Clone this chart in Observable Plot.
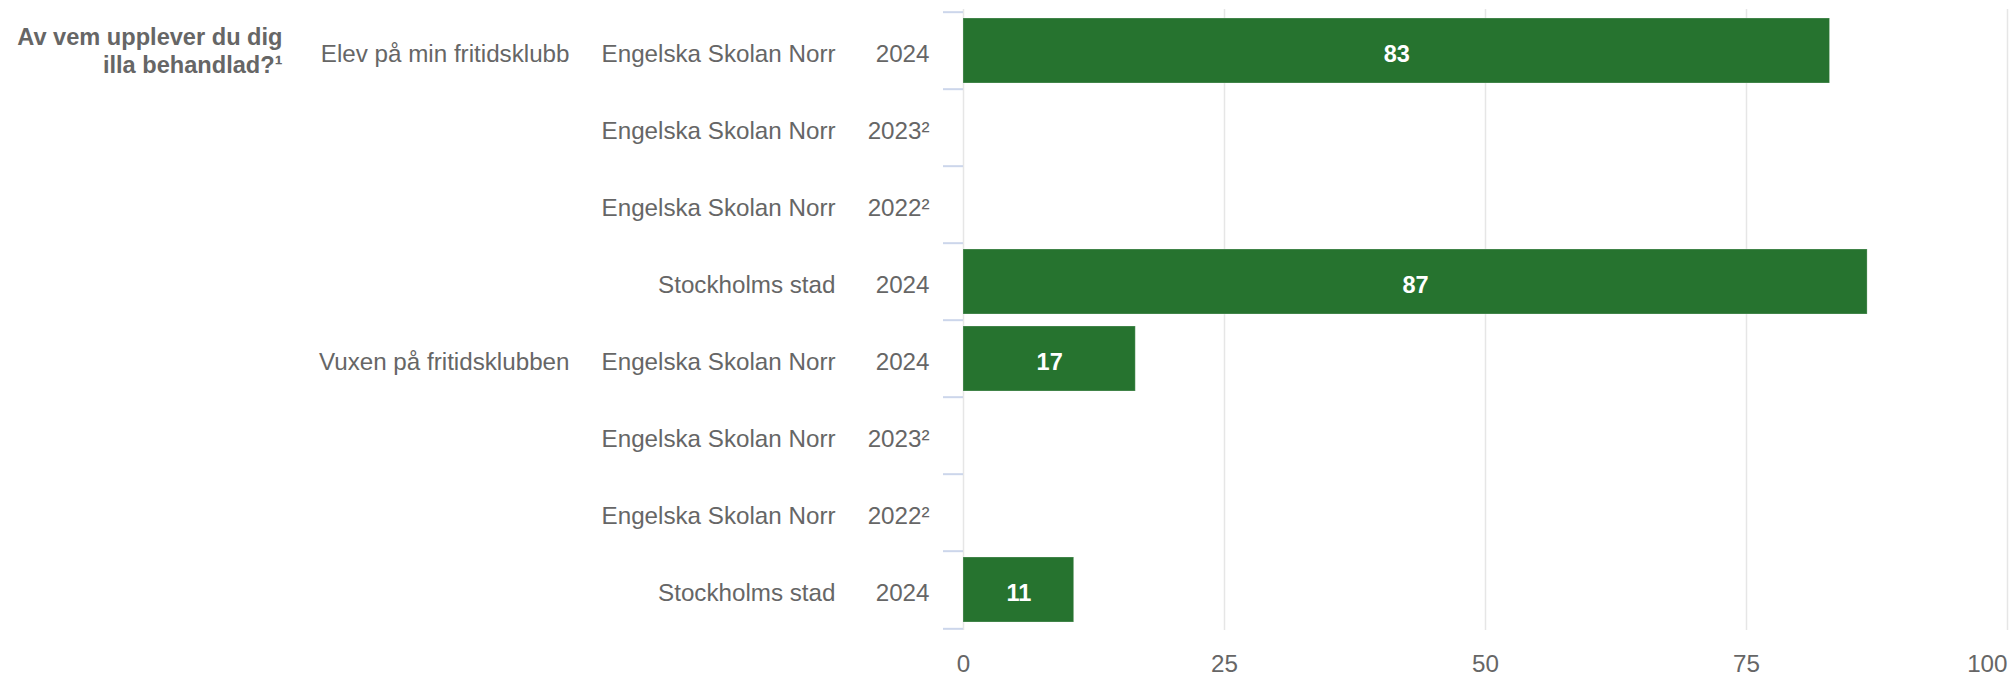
<!DOCTYPE html>
<html>
<head>
<meta charset="utf-8">
<script src="https://cdn.jsdelivr.net/npm/d3@7"></script>
<script src="https://cdn.jsdelivr.net/npm/@observablehq/plot@0.6"></script>
<style>
  html, body { margin: 0; padding: 0; background: #ffffff; }
  #chart svg { display: block; }
</style>
</head>
<body>
<div id="chart"></div>
<script>
// ---- Data ----
const question = "Av vem upplever du dig\nilla behandlad?¹";
const groups = ["Elev på min fritidsklubb", "Vuxen på fritidsklubben"];
const units = ["Engelska Skolan Norr", "Engelska Skolan Norr", "Engelska Skolan Norr", "Stockholms stad"];
const years = ["2024", "2023²", "2022²", "2024"];
const elevValues = [83, null, null, 86.6];
const elevLabels = ["83", null, null, "87"];
const vuxenValues = [16.5, null, null, 10.6];
const vuxenLabels = ["17", null, null, "11"];
const xTicks = [0, 25, 50, 75, 100];

// ---- Build table ----
const seriesValues = [elevValues, vuxenValues];
const seriesLabels = [elevLabels, vuxenLabels];
const rows = [];
groups.forEach((g, gi) => {
  units.forEach((u, ui) => {
    rows.push({
      key: rows.length,
      group: ui === 0 ? g : "",
      unit: u,
      year: years[ui],
      value: seriesValues[gi][ui],
      label: seriesLabels[gi][ui]
    });
  });
});
const keys = rows.map(d => d.key);

// ---- Layout ----
const W = 2015, H = 676;
const mTop = 9, mBottom = 46, mLeft = 963, mRight = 8;
const step = (H - mTop - mBottom) / keys.length;
const textColor = "#666666";
const font = "'Liberation Sans', Arial, Helvetica, sans-serif";
const fs = 24.2;

const chart = Plot.plot({
  width: W,
  height: H,
  marginTop: mTop,
  marginBottom: mBottom,
  marginLeft: mLeft,
  marginRight: mRight,
  style: { fontFamily: font, color: textColor, background: "#ffffff" },
  x: { domain: [0, 100], label: null },
  y: { domain: keys, paddingInner: 0.16, paddingOuter: 0.08, label: null },
  marks: [
    Plot.gridX({ ticks: xTicks, stroke: "#e6e6e6", strokeOpacity: 1, strokeWidth: 1.5 }),
    // band-boundary tick marks on the category axis
    Plot.axisY({ ticks: keys, tickSize: 20, tickFormat: () => "", label: null, dy: -step / 2, stroke: "#ccd6eb", strokeWidth: 2 }),
    Plot.axisY({ ticks: [keys[keys.length - 1]], tickSize: 20, tickFormat: () => "", label: null, dy: step / 2, stroke: "#ccd6eb", strokeWidth: 2 }),
    Plot.barX(rows.filter(d => d.value != null), {
      x: "value", y: "key", fill: "#26732f", stroke: "#ffffff", strokeOpacity: 0.25, strokeWidth: 1
    }),
    Plot.text(rows.filter(d => d.value != null), {
      x: d => d.value / 2, y: "key", text: "label",
      fill: "#ffffff", fontWeight: "bold", fontSize: 23.5, dy: 3
    }),
    // category labels
    Plot.text(rows, {
      y: "key", text: "year", frameAnchor: "left", textAnchor: "end",
      dx: -34, dy: 3, fill: textColor, fontSize: fs
    }),
    Plot.text(rows, {
      y: "key", text: "unit", frameAnchor: "left", textAnchor: "end",
      dx: -128, dy: 3, fill: textColor, fontSize: fs
    }),
    Plot.text(rows, {
      y: "key", text: "group", frameAnchor: "left", textAnchor: "end",
      dx: -394, dy: 3, fill: textColor, fontSize: fs
    }),
    Plot.text([question], {
      y: () => keys[0], text: d => d, frameAnchor: "left", textAnchor: "end",
      dx: -681, dy: -1, lineHeight: 1.2, fill: textColor, fontSize: 23.6, fontWeight: "bold"
    }),
    // value axis labels
    Plot.axisX({ ticks: xTicks.slice(0, -1), tickSize: 0, tickPadding: 24, label: null, fontSize: fs, color: textColor, tickFormat: d => String(d) }),
    Plot.axisX({ ticks: xTicks.slice(-1), tickSize: 0, tickPadding: 24, label: null, fontSize: fs, color: textColor, textAnchor: "end", tickFormat: d => String(d) })
  ]
});
document.getElementById("chart").appendChild(chart);
</script>
</body>
</html>
